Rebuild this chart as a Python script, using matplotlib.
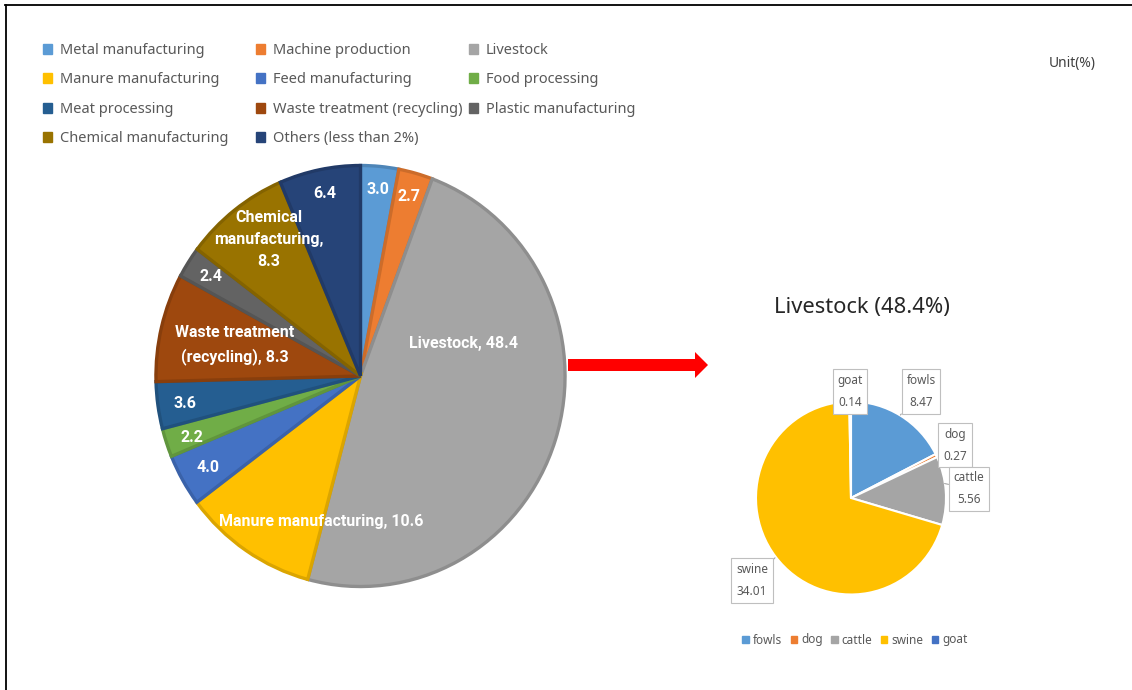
import matplotlib
matplotlib.use("Agg")
import matplotlib.pyplot as plt
from matplotlib.patches import Rectangle, FancyArrow
from matplotlib.lines import Line2D
import matplotlib.colors as mcolors

# ---------------- data ----------------
sectors = ["Metal manufacturing", "Machine production", "Livestock",
           "Manure manufacturing", "Feed manufacturing", "Food processing",
           "Meat processing", "Waste treatment (recycling)", "Plastic manufacturing",
           "Chemical manufacturing", "Others (less than 2%)"]
sector_values = [3.0, 2.7, 48.4, 10.6, 4.0, 2.2, 3.6, 8.3, 2.4, 8.3, 6.4]
sector_labels = ["3.0", "2.7", "Livestock, 48.4", "Manure manufacturing, 10.6",
                 "4.0", "2.2", "3.6", "Waste treatment\n(recycling), 8.3", "2.4",
                 "Chemical\nmanufacturing,\n8.3", "6.4"]
sector_colors = ["#5B9BD5", "#ED7D31", "#A5A5A5", "#FFC000", "#4472C4", "#70AD47",
                 "#255E91", "#9E480E", "#636363", "#997300", "#264478"]

animals = ["fowls", "dog", "cattle", "swine", "goat"]
animal_values = [8.47, 0.27, 5.56, 34.01, 0.14]
animal_colors = ["#5B9BD5", "#ED7D31", "#A5A5A5", "#FFC000", "#4472C4"]
livestock_title = "Livestock (48.4%)"
unit_text = "Unit(%)"

# label placement (in units of pie radius)
sector_label_pos = [(0.085, 0.88), (0.237, 0.848), (0.50, 0.152), (-0.19, -0.687),
                    (-0.739, -0.431), (-0.82, -0.289), (-0.853, -0.128),
                    (-0.61, 0.147), (-0.725, 0.469), (-0.446, 0.645), (-0.175, 0.863)]
animal_label_pos = [(0.737, 1.105), (1.095, 0.547), (1.242, 0.095),
                    (-1.042, -0.853), (-0.01, 1.105)]
animal_anchor = [(0.52, 0.86), (0.92, 0.42), (0.985, 0.15), (-0.8, -0.62), (0.0, 1.0)]

W, H = 1132, 690
fig = plt.figure(figsize=(W / 100, H / 100), dpi=100)
fig.patch.set_facecolor("white")
plt.rcParams['font.family'] = ['Noto Sans', 'DejaVu Sans']


def rect_px(cx, cy, rx, ry):
    return [(cx - rx) / W, (H - cy - ry) / H, 2 * rx / W, 2 * ry / H]


def darker(c, f=0.86):
    r, g, b = mcolors.to_rgb(c)
    return (r * f, g * f, b * f)


# ---------------- main pie ----------------
ax1 = fig.add_axes(rect_px(360.5, 376, 206, 212))
wedges, _ = ax1.pie(sector_values, colors=sector_colors, startangle=90,
                    counterclock=False, radius=0.993,
                    wedgeprops=dict(linewidth=2.4))
for w, c in zip(wedges, sector_colors):
    w.set_edgecolor(darker(c))
ax1.set_xlim(-1, 1)
ax1.set_ylim(-1, 1)
ax1.set_aspect("auto")
ax1.axis("off")
for lab, (x, y) in zip(sector_labels, sector_label_pos):
    ax1.text(x, y, lab, ha="center", va="center", color="white",
             fontsize=11.5, fontweight="bold", linespacing=1.6,
             family=["Roboto", "DejaVu Sans"])

# ---------------- sub pie ----------------
ax2 = fig.add_axes(rect_px(851, 498, 95, 96.5))
wedges2, _ = ax2.pie(animal_values, colors=animal_colors, startangle=90,
                     counterclock=False, radius=1.0,
                     wedgeprops=dict(edgecolor="white", linewidth=1.5))
ax2.set_xlim(-1, 1)
ax2.set_ylim(-1, 1)
ax2.set_aspect("auto")
ax2.axis("off")
for name, val, (x, y), (ax_, ay_) in zip(animals, animal_values, animal_label_pos, animal_anchor):
    ax2.annotate(f"{name}\n{val:.2f}", xy=(ax_, ay_), xytext=(x, y),
                 ha="center", va="center", fontsize=8.5, color="#595959",
                 linespacing=1.9, annotation_clip=False,
                 bbox=dict(boxstyle="square,pad=0.4", fc="white", ec="#BFBFBF", lw=0.8),
                 arrowprops=dict(arrowstyle="-", color="#A6A6A6", lw=0.8,
                                 shrinkA=0, shrinkB=0))

handles2 = [Rectangle((0, 0), 1, 1, color=c) for c in animal_colors]
fig.legend(handles2, animals, loc="center", bbox_to_anchor=(855 / W, 1 - 640 / H),
           ncol=5, frameon=False, fontsize=8.5, labelcolor="#595959",
           handlelength=0.55, handleheight=0.55, handletextpad=0.35,
           columnspacing=0.7)

fig.text(862 / W, 1 - 308 / H, livestock_title, ha="center", va="center",
         fontsize=15.8, color="#262626")
fig.text(1072 / W, 1 - 63 / H, unit_text, ha="center", va="center",
         fontsize=10, color="#404040")

# ---------------- main legend (Excel-like grid) ----------------
col_x = [47, 260, 473]
row_y = [49, 78, 108, 137]
for i, (name, c) in enumerate(zip(sectors, sector_colors)):
    r, k = divmod(i, 3)
    x, y = col_x[k], row_y[r]
    fig.patches.append(Rectangle(((x - 4.5) / W, 1 - (y + 4.5) / H), 9 / W, 9 / H,
                                 transform=fig.transFigure, color=c, figure=fig))
    fig.text((x + 13) / W, 1 - (y + 1.5) / H, name, ha="left", va="center",
             fontsize=10.5, color="#595959")

# ---------------- overlay: arrow and frame ----------------
ov = fig.add_axes([0, 0, 1, 1], zorder=-1)
ov.set_xlim(0, W)
ov.set_ylim(H, 0)
ov.axis("off")
ov.add_patch(FancyArrow(568, 365, 140, 0, width=12, head_width=26, head_length=13,
                        length_includes_head=True, color="#FF0000", lw=0))
ov.add_line(Line2D([5, W], [4.5, 4.5], color="black", lw=1.3))
ov.add_line(Line2D([5.5, 5.5], [4.5, H], color="black", lw=1.3))

fig.savefig("out.png", dpi=100, facecolor="white")
